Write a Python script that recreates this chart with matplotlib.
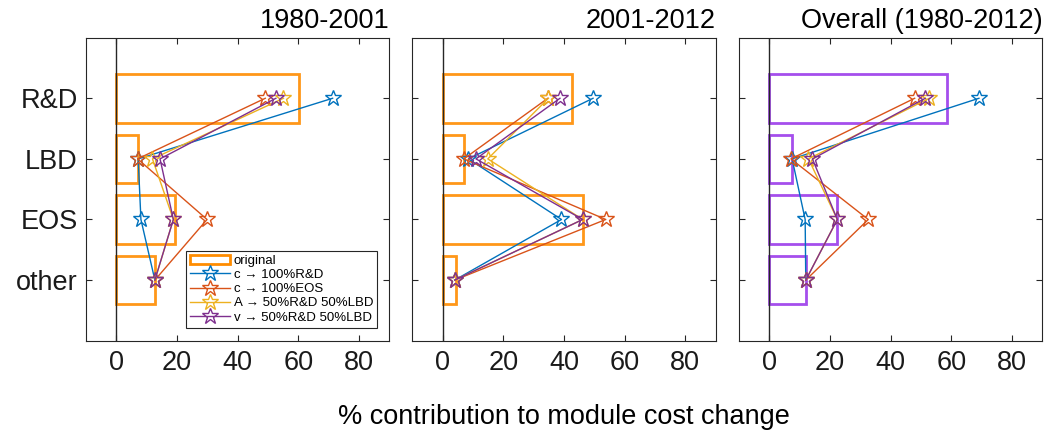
import matplotlib.pyplot as plt
from matplotlib.patches import Patch

plt.rcParams['font.family'] = ['Liberation Sans', 'DejaVu Sans']

categories = ["R&D", "LBD", "EOS", "other"]
periods = ["1980-2001", "2001-2012", "Overall (1980-2012)"]

# original contributions (bars), per period, in category order
original = [
    [60.3, 7.0, 19.2, 12.8],
    [42.7, 7.0, 46.4, 4.3],
    [58.7, 7.3, 22.3, 12.1],
]

# alternative scenarios, per period, in category order
c_rd = [
    [71.3, 7.2, 8.1, 12.7],
    [49.6, 8.5, 39.2, 4.0],
    [69.1, 7.5, 11.8, 12.0],
]
c_eos = [
    [49.1, 7.0, 29.9, 12.7],
    [34.7, 7.0, 53.8, 4.0],
    [47.9, 7.1, 32.6, 12.0],
]
a_rd_lbd = [
    [55.1, 11.9, 18.8, 12.7],
    [34.9, 14.9, 46.2, 4.0],
    [52.7, 12.9, 22.4, 12.0],
]
v_rd_lbd = [
    [52.6, 14.4, 18.8, 12.7],
    [38.7, 11.0, 46.2, 4.0],
    [51.4, 14.2, 22.4, 12.0],
]

series = [
    (c_rd, "#0072BD", "c \u2192 100%R&D"),
    (c_eos, "#D95319", "c \u2192 100%EOS"),
    (a_rd_lbd, "#EDB120", "A \u2192 50%R&D 50%LBD"),
    (v_rd_lbd, "#7E2F8E", "v \u2192 50%R&D 50%LBD"),
]
bar_colors = ["#FF8C00", "#FF8C00", "#9B3BEA"]

ypos = [4, 3, 2, 1]
axis_col = "#262626"
fs = 19.5

fig = plt.figure(figsize=(10.44, 4.36), dpi=100)
lefts = [0.0824, 0.3949, 0.7079]

for i in range(3):
    ax = fig.add_axes([lefts[i], 0.2186, 0.2905, 0.695])
    ax.barh(ypos, original[i], height=0.8, left=0, facecolor="none",
            edgecolor=bar_colors[i], linewidth=2, alpha=0.9)
    ax.axvline(0, color=axis_col, linewidth=1)
    handles = [Patch(facecolor="none", edgecolor=bar_colors[i], linewidth=2)]
    labels = ["original"]
    for vals, col, lab in series:
        ln, = ax.plot(vals[i], ypos, color=col, linewidth=1, marker="*",
                      markersize=12, markerfacecolor="none",
                      markeredgecolor=col, markeredgewidth=1)
        handles.append(ln)
        labels.append(lab)
    ax.set_xlim(-10, 90)
    ax.set_ylim(0, 5)
    ax.set_xticks([0, 20, 40, 60, 80])
    ax.set_yticks(ypos)
    if i == 0:
        ax.set_yticklabels(categories)
    else:
        ax.set_yticklabels([])
    ax.tick_params(direction="in", top=True, right=True, length=4,
                   labelsize=fs, colors=axis_col, labelcolor="#1a1a1a",
                   width=0.8)
    ax.tick_params(axis="x", pad=7)
    ax.tick_params(axis="y", pad=6)
    for sp in ax.spines.values():
        sp.set_color(axis_col)
        sp.set_linewidth(0.8)
    ax.set_title(periods[i], loc="right", fontsize=fs, pad=7)
    if i == 1:
        ax.set_xlabel("% contribution to module cost change", fontsize=fs,
                      labelpad=20)
    if i == 0:
        leg = ax.legend(handles, labels, loc="lower right",
                        bbox_to_anchor=(0.96, 0.043), fontsize=9.5,
                        frameon=True, fancybox=False, edgecolor=axis_col,
                        framealpha=1, borderpad=0.3, labelspacing=0.15,
                        handlelength=3.0, handletextpad=0.3, borderaxespad=0)
        leg.get_frame().set_linewidth(0.8)

fig.savefig("out.png", dpi=100)
